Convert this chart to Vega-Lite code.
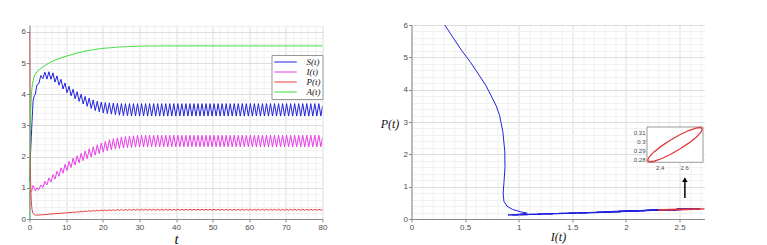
{
"$schema": "https://vega.github.io/schema/vega-lite/v6.json",
"background": "white",
"padding": {"left": 20.5, "top": 21, "right": 5, "bottom": 2},
"config": {
  "view": {"stroke": null},
  "axis": {"labelFont": "Liberation Sans", "labelFontSize": 8, "labelColor": "#4d4d4d", "domainColor": "#8a8a8a", "tickColor": "#8a8a8a", "ticks": true, "tickSize": 3, "labelPadding": 1, "labelFlush": false, "labelOverlap": false, "titleFont": "Liberation Serif", "titleFontStyle": "italic", "titleFontWeight": "normal", "titleColor": "#111111", "format": "~g"}
},
"datasets": {
  "traj": [
{"t":0,"S":1.2,"I":0.31,"P":6,"A":0.0},
{"t":0.015,"S":1.25,"I":0.39,"P":5.6,"A":0.4},
{"t":0.03,"S":1.3,"I":0.47,"P":5.2,"A":0.8},
{"t":0.045,"S":1.35,"I":0.55,"P":4.85,"A":1.1},
{"t":0.06,"S":1.4,"I":0.62,"P":4.5,"A":1.4},
{"t":0.075,"S":1.45,"I":0.69,"P":4.15,"A":1.6},
{"t":0.09,"S":1.5,"I":0.745,"P":3.8,"A":1.8},
{"t":0.105,"S":1.55,"I":0.79,"P":3.5,"A":1.95},
{"t":0.12,"S":1.6,"I":0.822,"P":3.2,"A":2.1},
{"t":0.15,"S":1.7,"I":0.852,"P":2.7,"A":2.4},
{"t":0.2,"S":1.85,"I":0.87,"P":2.1,"A":2.8},
{"t":0.25,"S":2.0,"I":0.872,"P":1.6,"A":3.1},
{"t":0.3,"S":2.15,"I":0.864,"P":1.2,"A":3.35},
{"t":0.4,"S":2.4,"I":0.855,"P":0.8,"A":3.7},
{"t":0.5,"S":2.65,"I":0.862,"P":0.55,"A":3.95},
{"t":0.6,"S":2.9,"I":0.89,"P":0.4,"A":4.1},
{"t":0.7,"S":3.15,"I":0.94,"P":0.3,"A":4.22},
{"t":0.85,"S":3.5,"I":1.02,"P":0.22,"A":4.35},
{"t":1.0,"S":3.8,"I":1.08,"P":0.18,"A":4.45},
{"t":1.3,"S":3.95,"I":0.98,"P":0.14,"A":4.57},
{"t":1.6,"S":4.0,"I":0.9,"P":0.125,"A":4.65},
{"t":2,"S":4.29,"I":1.0,"P":0.128,"A":4.72},
{"t":2.55,"S":4.34,"I":0.942,"P":0.125,"A":4.775},
{"t":3.1,"S":4.6,"I":1.09,"P":0.134,"A":4.83},
{"t":3.65,"S":4.5,"I":1.009,"P":0.133,"A":4.872},
{"t":4.2,"S":4.708,"I":1.206,"P":0.146,"A":4.916},
{"t":4.75,"S":4.484,"I":1.091,"P":0.144,"A":4.96},
{"t":5.3,"S":4.72,"I":1.318,"P":0.157,"A":4.998},
{"t":5.85,"S":4.48,"I":1.182,"P":0.155,"A":5.031},
{"t":6.4,"S":4.686,"I":1.423,"P":0.169,"A":5.064},
{"t":6.95,"S":4.39,"I":1.276,"P":0.165,"A":5.097},
{"t":7.5,"S":4.588,"I":1.53,"P":0.179,"A":5.12},
{"t":8.05,"S":4.29,"I":1.371,"P":0.174,"A":5.142},
{"t":8.6,"S":4.479,"I":1.64,"P":0.188,"A":5.164},
{"t":9.15,"S":4.168,"I":1.467,"P":0.183,"A":5.186},
{"t":9.7,"S":4.36,"I":1.75,"P":0.199,"A":5.208},
{"t":10.25,"S":4.05,"I":1.56,"P":0.191,"A":5.228},
{"t":10.8,"S":4.256,"I":1.851,"P":0.21,"A":5.247},
{"t":11.35,"S":3.95,"I":1.65,"P":0.201,"A":5.265},
{"t":11.9,"S":4.159,"I":1.95,"P":0.222,"A":5.283},
{"t":12.45,"S":3.855,"I":1.73,"P":0.212,"A":5.302},
{"t":13,"S":4.08,"I":2.028,"P":0.233,"A":5.32},
{"t":13.55,"S":3.772,"I":1.8,"P":0.222,"A":5.337},
{"t":14.1,"S":4.002,"I":2.105,"P":0.245,"A":5.353},
{"t":14.65,"S":3.688,"I":1.87,"P":0.233,"A":5.37},
{"t":15.2,"S":3.93,"I":2.182,"P":0.255,"A":5.384},
{"t":15.75,"S":3.613,"I":1.93,"P":0.241,"A":5.395},
{"t":16.3,"S":3.874,"I":2.249,"P":0.263,"A":5.406},
{"t":16.85,"S":3.544,"I":1.988,"P":0.248,"A":5.417},
{"t":17.4,"S":3.818,"I":2.316,"P":0.272,"A":5.428},
{"t":17.95,"S":3.475,"I":2.045,"P":0.254,"A":5.439},
{"t":18.5,"S":3.776,"I":2.379,"P":0.279,"A":5.448},
{"t":19.05,"S":3.435,"I":2.097,"P":0.258,"A":5.456},
{"t":19.6,"S":3.75,"I":2.438,"P":0.285,"A":5.464},
{"t":20.15,"S":3.397,"I":2.145,"P":0.264,"A":5.472},
{"t":20.7,"S":3.734,"I":2.491,"P":0.289,"A":5.477},
{"t":21.25,"S":3.38,"I":2.185,"P":0.267,"A":5.483},
{"t":21.8,"S":3.725,"I":2.539,"P":0.293,"A":5.488},
{"t":22.35,"S":3.363,"I":2.219,"P":0.27,"A":5.494},
{"t":22.9,"S":3.717,"I":2.573,"P":0.297,"A":5.499},
{"t":23.45,"S":3.345,"I":2.24,"P":0.272,"A":5.505},
{"t":24,"S":3.708,"I":2.603,"P":0.301,"A":5.51},
{"t":24.55,"S":3.327,"I":2.262,"P":0.275,"A":5.516},
{"t":25.1,"S":3.7,"I":2.631,"P":0.304,"A":5.52},
{"t":25.65,"S":3.317,"I":2.276,"P":0.277,"A":5.523},
{"t":26.2,"S":3.7,"I":2.643,"P":0.305,"A":5.525},
{"t":26.75,"S":3.312,"I":2.286,"P":0.278,"A":5.527},
{"t":27.3,"S":3.699,"I":2.655,"P":0.307,"A":5.529},
{"t":27.85,"S":3.307,"I":2.296,"P":0.279,"A":5.531},
{"t":28.4,"S":3.699,"I":2.667,"P":0.309,"A":5.534},
{"t":28.95,"S":3.303,"I":2.306,"P":0.28,"A":5.536},
{"t":29.5,"S":3.699,"I":2.68,"P":0.31,"A":5.538},
{"t":30.05,"S":3.3,"I":2.315,"P":0.281,"A":5.54},
{"t":30.6,"S":3.7,"I":2.685,"P":0.311,"A":5.542},
{"t":31.15,"S":3.3,"I":2.315,"P":0.281,"A":5.543},
{"t":31.7,"S":3.7,"I":2.685,"P":0.311,"A":5.544},
{"t":32.25,"S":3.3,"I":2.315,"P":0.281,"A":5.545},
{"t":32.8,"S":3.7,"I":2.685,"P":0.311,"A":5.545},
{"t":33.35,"S":3.3,"I":2.315,"P":0.281,"A":5.546},
{"t":33.9,"S":3.7,"I":2.685,"P":0.311,"A":5.546},
{"t":34.45,"S":3.3,"I":2.315,"P":0.281,"A":5.547},
{"t":35,"S":3.7,"I":2.685,"P":0.311,"A":5.547},
{"t":35.55,"S":3.3,"I":2.315,"P":0.281,"A":5.548},
{"t":36.1,"S":3.7,"I":2.685,"P":0.311,"A":5.548},
{"t":36.65,"S":3.3,"I":2.315,"P":0.281,"A":5.549},
{"t":37.2,"S":3.7,"I":2.685,"P":0.311,"A":5.549},
{"t":37.75,"S":3.3,"I":2.315,"P":0.281,"A":5.55},
{"t":38.3,"S":3.7,"I":2.685,"P":0.311,"A":5.55},
{"t":38.85,"S":3.3,"I":2.315,"P":0.281,"A":5.55},
{"t":39.4,"S":3.7,"I":2.685,"P":0.311,"A":5.55},
{"t":39.95,"S":3.3,"I":2.315,"P":0.281,"A":5.55},
{"t":40.5,"S":3.7,"I":2.685,"P":0.311,"A":5.55},
{"t":41.05,"S":3.3,"I":2.315,"P":0.281,"A":5.55},
{"t":41.6,"S":3.7,"I":2.685,"P":0.311,"A":5.55},
{"t":42.15,"S":3.3,"I":2.315,"P":0.281,"A":5.55},
{"t":42.7,"S":3.7,"I":2.685,"P":0.311,"A":5.55},
{"t":43.25,"S":3.3,"I":2.315,"P":0.281,"A":5.55},
{"t":43.8,"S":3.7,"I":2.685,"P":0.311,"A":5.55},
{"t":44.35,"S":3.3,"I":2.315,"P":0.281,"A":5.55},
{"t":44.9,"S":3.7,"I":2.685,"P":0.311,"A":5.55},
{"t":45.45,"S":3.3,"I":2.315,"P":0.281,"A":5.55},
{"t":46,"S":3.7,"I":2.685,"P":0.311,"A":5.55},
{"t":46.55,"S":3.3,"I":2.315,"P":0.281,"A":5.55},
{"t":47.1,"S":3.7,"I":2.685,"P":0.311,"A":5.55},
{"t":47.65,"S":3.3,"I":2.315,"P":0.281,"A":5.55},
{"t":48.2,"S":3.7,"I":2.685,"P":0.311,"A":5.55},
{"t":48.75,"S":3.3,"I":2.315,"P":0.281,"A":5.55},
{"t":49.3,"S":3.7,"I":2.685,"P":0.311,"A":5.55},
{"t":49.85,"S":3.3,"I":2.315,"P":0.281,"A":5.55},
{"t":50.4,"S":3.7,"I":2.685,"P":0.311,"A":5.55},
{"t":50.95,"S":3.3,"I":2.315,"P":0.281,"A":5.55},
{"t":51.5,"S":3.7,"I":2.685,"P":0.311,"A":5.55},
{"t":52.05,"S":3.3,"I":2.315,"P":0.281,"A":5.55},
{"t":52.6,"S":3.7,"I":2.685,"P":0.311,"A":5.55},
{"t":53.15,"S":3.3,"I":2.315,"P":0.281,"A":5.55},
{"t":53.7,"S":3.7,"I":2.685,"P":0.311,"A":5.55},
{"t":54.25,"S":3.3,"I":2.315,"P":0.281,"A":5.55},
{"t":54.8,"S":3.7,"I":2.685,"P":0.311,"A":5.55},
{"t":55.35,"S":3.3,"I":2.315,"P":0.281,"A":5.55},
{"t":55.9,"S":3.7,"I":2.685,"P":0.311,"A":5.55},
{"t":56.45,"S":3.3,"I":2.315,"P":0.281,"A":5.55},
{"t":57,"S":3.7,"I":2.685,"P":0.311,"A":5.55},
{"t":57.55,"S":3.3,"I":2.315,"P":0.281,"A":5.55},
{"t":58.1,"S":3.7,"I":2.685,"P":0.311,"A":5.55},
{"t":58.65,"S":3.3,"I":2.315,"P":0.281,"A":5.55},
{"t":59.2,"S":3.7,"I":2.685,"P":0.311,"A":5.55},
{"t":59.75,"S":3.3,"I":2.315,"P":0.281,"A":5.55},
{"t":60.3,"S":3.7,"I":2.685,"P":0.311,"A":5.55},
{"t":60.85,"S":3.3,"I":2.315,"P":0.281,"A":5.55},
{"t":61.4,"S":3.7,"I":2.685,"P":0.311,"A":5.55},
{"t":61.95,"S":3.3,"I":2.315,"P":0.281,"A":5.55},
{"t":62.5,"S":3.7,"I":2.685,"P":0.311,"A":5.55},
{"t":63.05,"S":3.3,"I":2.315,"P":0.281,"A":5.55},
{"t":63.6,"S":3.7,"I":2.685,"P":0.311,"A":5.55},
{"t":64.15,"S":3.3,"I":2.315,"P":0.281,"A":5.55},
{"t":64.7,"S":3.7,"I":2.685,"P":0.311,"A":5.55},
{"t":65.25,"S":3.3,"I":2.315,"P":0.281,"A":5.55},
{"t":65.8,"S":3.7,"I":2.685,"P":0.311,"A":5.55},
{"t":66.35,"S":3.3,"I":2.315,"P":0.281,"A":5.55},
{"t":66.9,"S":3.7,"I":2.685,"P":0.311,"A":5.55},
{"t":67.45,"S":3.3,"I":2.315,"P":0.281,"A":5.55},
{"t":68,"S":3.7,"I":2.685,"P":0.311,"A":5.55},
{"t":68.55,"S":3.3,"I":2.315,"P":0.281,"A":5.55},
{"t":69.1,"S":3.7,"I":2.685,"P":0.311,"A":5.55},
{"t":69.65,"S":3.3,"I":2.315,"P":0.281,"A":5.55},
{"t":70.2,"S":3.7,"I":2.685,"P":0.311,"A":5.55},
{"t":70.75,"S":3.3,"I":2.315,"P":0.281,"A":5.55},
{"t":71.3,"S":3.7,"I":2.685,"P":0.311,"A":5.55},
{"t":71.85,"S":3.3,"I":2.315,"P":0.281,"A":5.55},
{"t":72.4,"S":3.7,"I":2.685,"P":0.311,"A":5.55},
{"t":72.95,"S":3.3,"I":2.315,"P":0.281,"A":5.55},
{"t":73.5,"S":3.7,"I":2.685,"P":0.311,"A":5.55},
{"t":74.05,"S":3.3,"I":2.315,"P":0.281,"A":5.55},
{"t":74.6,"S":3.7,"I":2.685,"P":0.311,"A":5.55},
{"t":75.15,"S":3.3,"I":2.315,"P":0.281,"A":5.55},
{"t":75.7,"S":3.7,"I":2.685,"P":0.311,"A":5.55},
{"t":76.25,"S":3.3,"I":2.315,"P":0.281,"A":5.55},
{"t":76.8,"S":3.7,"I":2.685,"P":0.311,"A":5.55},
{"t":77.35,"S":3.3,"I":2.315,"P":0.281,"A":5.55},
{"t":77.9,"S":3.7,"I":2.685,"P":0.311,"A":5.55},
{"t":78.45,"S":3.3,"I":2.315,"P":0.281,"A":5.55},
{"t":79,"S":3.7,"I":2.685,"P":0.311,"A":5.55},
{"t":79.55,"S":3.3,"I":2.315,"P":0.281,"A":5.55},
{"t":80,"S":3.62,"I":2.61,"P":0.305,"A":5.55}
  ],
  "cyc": [
{"k":0,"I":2.75,"P":0.3142},
{"k":1,"I":2.7364,"P":0.3159},
{"k":2,"I":2.6974,"P":0.3153},
{"k":3,"I":2.6375,"P":0.3125},
{"k":4,"I":2.5641,"P":0.3077},
{"k":5,"I":2.4859,"P":0.3015},
{"k":6,"I":2.4125,"P":0.2948},
{"k":7,"I":2.3526,"P":0.2883},
{"k":8,"I":2.3136,"P":0.2827},
{"k":9,"I":2.3,"P":0.2788},
{"k":10,"I":2.3136,"P":0.2771},
{"k":11,"I":2.3526,"P":0.2777},
{"k":12,"I":2.4125,"P":0.2805},
{"k":13,"I":2.4859,"P":0.2853},
{"k":14,"I":2.5641,"P":0.2915},
{"k":15,"I":2.6375,"P":0.2982},
{"k":16,"I":2.6974,"P":0.3047},
{"k":17,"I":2.7364,"P":0.3103},
{"k":18,"I":2.75,"P":0.3142}
  ]
},
"bounds": "flush",
"spacing": 89,
"hconcat": [
  {
    "width": 293, "height": 194,
    "data": {"name": "traj"},
    "transform": [{"fold": ["S", "I", "P", "A"], "as": ["s", "v"]}],
    "mark": {"type": "line", "strokeWidth": 1, "clip": true},
    "encoding": {
      "x": {"field": "t", "type": "quantitative", "scale": {"domain": [0, 80], "nice": false, "zero": false},
        "axis": {"title": "t", "titleFontSize": 15, "titlePadding": 0,
          "values": [0,2,4,6,8,10,12,14,16,18,20,22,24,26,28,30,32,34,36,38,40,42,44,46,48,50,52,54,56,58,60,62,64,66,68,70,72,74,76,78,80],
          "labelExpr": "datum.value % 10 === 0 ? datum.label : ''",
          "tickOpacity": {"condition": {"test": "datum.value % 10 === 0", "value": 1}, "value": 0},
          "gridColor": {"condition": {"test": "datum.value % 10 === 0", "value": "#dddddd"}, "value": "#f1f1f1"}}},
      "y": {"field": "v", "type": "quantitative", "scale": {"domain": [0, 6.22], "nice": false, "zero": false},
        "axis": {"title": null,
          "values": [0,0.2,0.4,0.6,0.8,1,1.2,1.4,1.6,1.8,2,2.2,2.4,2.6,2.8,3,3.2,3.4,3.6,3.8,4,4.2,4.4,4.6,4.8,5,5.2,5.4,5.6,5.8,6,6.2],
          "labelExpr": "abs(datum.value - round(datum.value)) < 0.01 ? datum.label : ''",
          "tickOpacity": {"condition": {"test": "abs(datum.value - round(datum.value)) < 0.01", "value": 1}, "value": 0},
          "gridColor": {"condition": {"test": "abs(datum.value - round(datum.value)) < 0.01", "value": "#dddddd"}, "value": "#f1f1f1"}}},
      "color": {"field": "s", "type": "nominal",
        "scale": {"domain": ["S", "I", "P", "A"], "range": ["#2222dd", "#e83ee8", "#e84040", "#3ddc3d"]},
        "legend": {"title": null, "orient": "none", "legendX": 242, "legendY": 30, "direction": "vertical",
          "symbolType": "M-2.5,0H2.5", "symbolSize": 81, "symbolStrokeWidth": 1, "symbolOffset": 7,
          "labelFont": "Liberation Serif", "labelFontStyle": "italic", "labelFontSize": 9, "labelColor": "#111111",
          "labelExpr": "datum.label + '(t)'", "strokeColor": "#999999", "fillColor": "white",
          "padding": 2, "rowPadding": 0, "labelOffset": 16}}
    }
  },
  {
    "width": 293, "height": 194,
    "layer": [
      {
        "layer": [
          {
            "data": {"name": "traj"},
            "mark": {"type": "line", "color": "#2222dd", "strokeWidth": 1, "clip": true},
            "encoding": {
              "x": {"field": "I", "type": "quantitative", "scale": {"domain": [0, 2.733], "nice": false, "zero": false},
                "axis": {"title": "I(t)", "titleFontSize": 12, "titlePadding": 0,
                  "values": [0,0.1,0.2,0.3,0.4,0.5,0.6,0.7,0.8,0.9,1,1.1,1.2,1.3,1.4,1.5,1.6,1.7,1.8,1.9,2,2.1,2.2,2.3,2.4,2.5,2.6,2.7],
                  "labelExpr": "abs(datum.value*2 - round(datum.value*2)) < 0.01 ? datum.label : ''",
                  "tickOpacity": {"condition": {"test": "abs(datum.value*2 - round(datum.value*2)) < 0.01", "value": 1}, "value": 0},
                  "gridColor": {"condition": {"test": "abs(datum.value*2 - round(datum.value*2)) < 0.01", "value": "#dddddd"}, "value": "#f1f1f1"}}},
              "y": {"field": "P", "type": "quantitative", "scale": {"domain": [0, 6], "nice": false, "zero": false},
                "axis": {"title": "P(t)", "titleFontSize": 12, "titleAngle": 0, "titleX": -22, "titleY": 98, "titleAlign": "center", "titleBaseline": "middle",
                  "values": [0,0.2,0.4,0.6,0.8,1,1.2,1.4,1.6,1.8,2,2.2,2.4,2.6,2.8,3,3.2,3.4,3.6,3.8,4,4.2,4.4,4.6,4.8,5,5.2,5.4,5.6,5.8,6],
                  "labelExpr": "abs(datum.value - round(datum.value)) < 0.01 ? datum.label : ''",
                  "tickOpacity": {"condition": {"test": "abs(datum.value - round(datum.value)) < 0.01", "value": 1}, "value": 0},
                  "gridColor": {"condition": {"test": "abs(datum.value - round(datum.value)) < 0.01", "value": "#dddddd"}, "value": "#f1f1f1"}}},
              "order": {"field": "t", "type": "quantitative"}
            }
          },
          {
            "data": {"name": "cyc"},
            "mark": {"type": "line", "color": "#e03a3a", "strokeWidth": 1.3, "clip": true},
            "encoding": {
              "x": {"field": "I", "type": "quantitative", "scale": {"domain": [0, 2.733], "nice": false, "zero": false},
                "axis": {"title": "I(t)", "titleFontSize": 12, "titlePadding": 0,
                  "values": [0,0.1,0.2,0.3,0.4,0.5,0.6,0.7,0.8,0.9,1,1.1,1.2,1.3,1.4,1.5,1.6,1.7,1.8,1.9,2,2.1,2.2,2.3,2.4,2.5,2.6,2.7],
                  "labelExpr": "abs(datum.value*2 - round(datum.value*2)) < 0.01 ? datum.label : ''",
                  "tickOpacity": {"condition": {"test": "abs(datum.value*2 - round(datum.value*2)) < 0.01", "value": 1}, "value": 0},
                  "gridColor": {"condition": {"test": "abs(datum.value*2 - round(datum.value*2)) < 0.01", "value": "#dddddd"}, "value": "#f1f1f1"}}},
              "y": {"field": "P", "type": "quantitative", "scale": {"domain": [0, 6], "nice": false, "zero": false},
                "axis": {"title": "P(t)", "titleFontSize": 12, "titleAngle": 0, "titleX": -22, "titleY": 98, "titleAlign": "center", "titleBaseline": "middle",
                  "values": [0,0.2,0.4,0.6,0.8,1,1.2,1.4,1.6,1.8,2,2.2,2.4,2.6,2.8,3,3.2,3.4,3.6,3.8,4,4.2,4.4,4.6,4.8,5,5.2,5.4,5.6,5.8,6],
                  "labelExpr": "abs(datum.value - round(datum.value)) < 0.01 ? datum.label : ''",
                  "tickOpacity": {"condition": {"test": "abs(datum.value - round(datum.value)) < 0.01", "value": 1}, "value": 0},
                  "gridColor": {"condition": {"test": "abs(datum.value - round(datum.value)) < 0.01", "value": "#dddddd"}, "value": "#f1f1f1"}}},
              "order": {"field": "k", "type": "quantitative"}
            }
          },
          {
            "data": {"values": [{"I": 2.55, "P": 0.65, "P1": 1.22}]},
            "mark": {"type": "rule", "color": "black", "strokeWidth": 1.5},
            "encoding": {
              "x": {"field": "I", "type": "quantitative", "scale": {"domain": [0, 2.733], "nice": false, "zero": false},
                "axis": {"title": "I(t)", "titleFontSize": 12, "titlePadding": 0,
                  "values": [0,0.1,0.2,0.3,0.4,0.5,0.6,0.7,0.8,0.9,1,1.1,1.2,1.3,1.4,1.5,1.6,1.7,1.8,1.9,2,2.1,2.2,2.3,2.4,2.5,2.6,2.7],
                  "labelExpr": "abs(datum.value*2 - round(datum.value*2)) < 0.01 ? datum.label : ''",
                  "tickOpacity": {"condition": {"test": "abs(datum.value*2 - round(datum.value*2)) < 0.01", "value": 1}, "value": 0},
                  "gridColor": {"condition": {"test": "abs(datum.value*2 - round(datum.value*2)) < 0.01", "value": "#dddddd"}, "value": "#f1f1f1"}}},
              "y": {"field": "P", "type": "quantitative", "scale": {"domain": [0, 6], "nice": false, "zero": false},
                "axis": {"title": "P(t)", "titleFontSize": 12, "titleAngle": 0, "titleX": -22, "titleY": 98, "titleAlign": "center", "titleBaseline": "middle",
                  "values": [0,0.2,0.4,0.6,0.8,1,1.2,1.4,1.6,1.8,2,2.2,2.4,2.6,2.8,3,3.2,3.4,3.6,3.8,4,4.2,4.4,4.6,4.8,5,5.2,5.4,5.6,5.8,6],
                  "labelExpr": "abs(datum.value - round(datum.value)) < 0.01 ? datum.label : ''",
                  "tickOpacity": {"condition": {"test": "abs(datum.value - round(datum.value)) < 0.01", "value": 1}, "value": 0},
                  "gridColor": {"condition": {"test": "abs(datum.value - round(datum.value)) < 0.01", "value": "#dddddd"}, "value": "#f1f1f1"}}},
              "y2": {"field": "P1"}
            }
          },
          {
            "data": {"values": [{"I": 2.55, "P": 1.22}]},
            "mark": {"type": "point", "shape": "triangle-up", "filled": true, "color": "black", "size": 30, "opacity": 1},
            "encoding": {
              "x": {"field": "I", "type": "quantitative", "scale": {"domain": [0, 2.733], "nice": false, "zero": false},
                "axis": {"title": "I(t)", "titleFontSize": 12, "titlePadding": 0,
                  "values": [0,0.1,0.2,0.3,0.4,0.5,0.6,0.7,0.8,0.9,1,1.1,1.2,1.3,1.4,1.5,1.6,1.7,1.8,1.9,2,2.1,2.2,2.3,2.4,2.5,2.6,2.7],
                  "labelExpr": "abs(datum.value*2 - round(datum.value*2)) < 0.01 ? datum.label : ''",
                  "tickOpacity": {"condition": {"test": "abs(datum.value*2 - round(datum.value*2)) < 0.01", "value": 1}, "value": 0},
                  "gridColor": {"condition": {"test": "abs(datum.value*2 - round(datum.value*2)) < 0.01", "value": "#dddddd"}, "value": "#f1f1f1"}}},
              "y": {"field": "P", "type": "quantitative", "scale": {"domain": [0, 6], "nice": false, "zero": false},
                "axis": {"title": "P(t)", "titleFontSize": 12, "titleAngle": 0, "titleX": -22, "titleY": 98, "titleAlign": "center", "titleBaseline": "middle",
                  "values": [0,0.2,0.4,0.6,0.8,1,1.2,1.4,1.6,1.8,2,2.2,2.4,2.6,2.8,3,3.2,3.4,3.6,3.8,4,4.2,4.4,4.6,4.8,5,5.2,5.4,5.6,5.8,6],
                  "labelExpr": "abs(datum.value - round(datum.value)) < 0.01 ? datum.label : ''",
                  "tickOpacity": {"condition": {"test": "abs(datum.value - round(datum.value)) < 0.01", "value": 1}, "value": 0},
                  "gridColor": {"condition": {"test": "abs(datum.value - round(datum.value)) < 0.01", "value": "#dddddd"}, "value": "#f1f1f1"}}}
            }
          }
        ]
      },
      {
        "layer": [
          {
            "data": {"values": [{"I": 2.295, "x2": 2.755, "P": 0.2765, "y2": 0.3165}]},
            "mark": {"type": "rect", "fill": "white", "stroke": "#9a9a9a", "strokeWidth": 1},
            "encoding": {
              "x": {"field": "I", "type": "quantitative", "scale": {"domain": [0.3605, 2.7673], "nice": false, "zero": false},
                "axis": {"orient": "bottom", "offset": -56.7, "values": [2.4, 2.6], "format": ".1f", "domain": false, "grid": false, "ticks": false, "tickSize": 0, "title": null, "labelFontSize": 6, "labelPadding": 2}},
              "x2": {"field": "x2"},
              "y": {"field": "P", "type": "quantitative", "scale": {"domain": [0.21225, 0.43208], "nice": false, "zero": false},
                "axis": {"orient": "left", "offset": -235.5, "values": [0.28, 0.29, 0.3, 0.31], "format": "~g", "domain": false, "grid": false, "ticks": false, "tickSize": 0, "title": null, "labelFontSize": 6, "labelPadding": 2}},
              "y2": {"field": "y2"}
            }
          },
          {
            "data": {"name": "cyc"},
            "mark": {"type": "line", "color": "#e03a3a", "strokeWidth": 1.3},
            "encoding": {
              "x": {"field": "I", "type": "quantitative", "scale": {"domain": [0.3605, 2.7673], "nice": false, "zero": false},
                "axis": {"orient": "bottom", "offset": -56.7, "values": [2.4, 2.6], "format": ".1f", "domain": false, "grid": false, "ticks": false, "tickSize": 0, "title": null, "labelFontSize": 6, "labelPadding": 2}},
              "y": {"field": "P", "type": "quantitative", "scale": {"domain": [0.21225, 0.43208], "nice": false, "zero": false},
                "axis": {"orient": "left", "offset": -235.5, "values": [0.28, 0.29, 0.3, 0.31], "format": "~g", "domain": false, "grid": false, "ticks": false, "tickSize": 0, "title": null, "labelFontSize": 6, "labelPadding": 2}},
              "order": {"field": "k", "type": "quantitative"}
            }
          }
        ]
      }
    ],
    "resolve": {"scale": {"x": "independent", "y": "independent"}}
  }
]
}
